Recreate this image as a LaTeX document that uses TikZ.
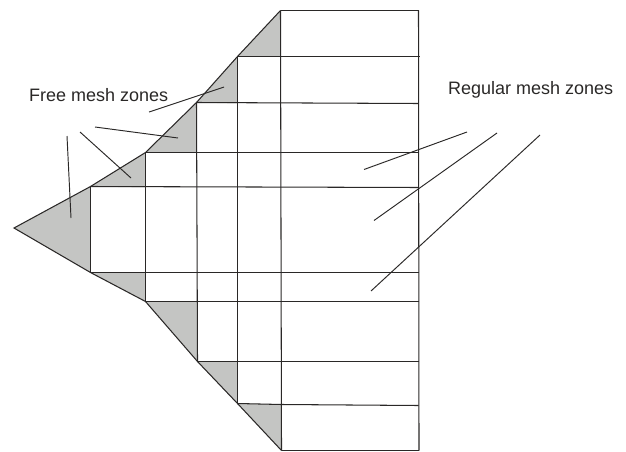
\documentclass[tikz,border=0pt]{standalone}
\usepackage{fontspec}
\setmainfont{Liberation Sans}
\definecolor{zonegray}{HTML}{C4C5C3}
\definecolor{meshline}{HTML}{2A2827}
\tikzset{
  zone/.style={fill=zonegray,draw=none},
  meshedge/.style={draw=meshline,line width=1.05pt,line join=miter},
  leader/.style={draw=meshline,line width=0.95pt},
  zonelabel/.style={anchor=base west,inner sep=0pt,text=meshline,font=\fontsize{18pt}{20pt}\selectfont}
}
\begin{document}
\begin{tikzpicture}[x=1pt,y=-1pt]
\useasboundingbox (0,0) rectangle (626,452);
% outline points
\coordinate (tip) at (14,228);
\coordinate (t1) at (90.5,186.5);
\coordinate (t2) at (145.5,152.5);
\coordinate (t3) at (196.5,102.5);
\coordinate (t4) at (237.5,56.5);
\coordinate (t5) at (280.5,10.5);
\coordinate (b1) at (90.5,272.5);
\coordinate (b2) at (145.5,301.5);
\coordinate (b3) at (197.5,361.5);
\coordinate (b4) at (237.5,403.5);
\coordinate (b5) at (281.5,450.5);
% inner points on the grid
\coordinate (i1) at (145.5,187.5);
\coordinate (i2) at (196.5,152.5);
\coordinate (i3) at (237.5,103.5);
\coordinate (i4) at (280.5,56.5);
\coordinate (j1) at (145.5,272.5);
\coordinate (j2) at (197.5,301.5);
\coordinate (j3) at (237.5,361.5);
\coordinate (j4) at (281.5,404.5);
% right side ends
\coordinate (r0) at (418.5,10.5);
\coordinate (r1) at (420,56.5);
\coordinate (r2) at (418.5,103.5);
\coordinate (r3) at (418.5,152.5);
\coordinate (r4) at (418.5,187.5);
\coordinate (r5) at (419,272.5);
\coordinate (r6) at (418.5,301.5);
\coordinate (r7) at (418.5,361.5);
\coordinate (r8) at (418.5,405.5);
\coordinate (r9) at (419,450.5);
% shaded zones
\fill[zone] (tip) -- (t1) -- (b1) -- cycle;
\fill[zone] (t1) -- (t2) -- (i1) -- cycle;
\fill[zone] (t2) -- (t3) -- (i2) -- cycle;
\fill[zone] (t3) -- (t4) -- (i3) -- cycle;
\fill[zone] (t4) -- (t5) -- (i4) -- cycle;
\fill[zone] (b1) -- (j1) -- (b2) -- cycle;
\fill[zone] (b2) -- (j2) -- (b3) -- cycle;
\fill[zone] (b3) -- (j3) -- (b4) -- cycle;
\fill[zone] (b4) -- (j4) -- (b5) -- cycle;
% outline
\draw[meshedge] (t5) -- (t4) -- (t3) -- (t2) -- (t1) -- (tip) -- (b1) -- (b2) -- (b3) -- (b4) -- (b5);
% vertical grid lines
\draw[meshedge] (t1) -- (b1);
\draw[meshedge] (t2) -- (b2);
\draw[meshedge] (t3) -- (b3);
\draw[meshedge] (t4) -- (b4);
\draw[meshedge] (t5) -- (b5);
\draw[meshedge] (r0) -- (r9);
% horizontal grid lines
\draw[meshedge] (t5) -- (r0);
\draw[meshedge] (t4) -- (r1);
\draw[meshedge] (t3) -- (r2);
\draw[meshedge] (t2) -- (r3);
\draw[meshedge] (t1) -- (r4);
\draw[meshedge] (b1) -- (r5);
\draw[meshedge] (b2) -- (r6);
\draw[meshedge] (b3) -- (r7);
\draw[meshedge] (b4) -- (j4) -- (r8);
\draw[meshedge] (b5) -- (r9);
% labels
\node[zonelabel] (freelabel) at (29,101) {Free mesh zones};
\node[zonelabel] (reglabel) at (448,94) {Regular mesh zones};
% leader lines
\coordinate (fa1) at (149,112); \coordinate (fa2) at (224,87);
\coordinate (fb1) at (95,127);  \coordinate (fb2) at (178,138);
\coordinate (fc1) at (80,132);  \coordinate (fc2) at (131,178);
\coordinate (fd1) at (67,136);  \coordinate (fd2) at (71,218);
\coordinate (ra1) at (467,132); \coordinate (ra2) at (364,169.5);
\coordinate (rb1) at (497,133); \coordinate (rb2) at (374,220.5);
\coordinate (rc1) at (540,135); \coordinate (rc2) at (371,291);
\draw[leader] (fa1) -- (fa2);
\draw[leader] (fb1) -- (fb2);
\draw[leader] (fc1) -- (fc2);
\draw[leader] (fd1) -- (fd2);
\draw[leader] (ra1) -- (ra2);
\draw[leader] (rb1) -- (rb2);
\draw[leader] (rc1) -- (rc2);
\end{tikzpicture}
\end{document}
